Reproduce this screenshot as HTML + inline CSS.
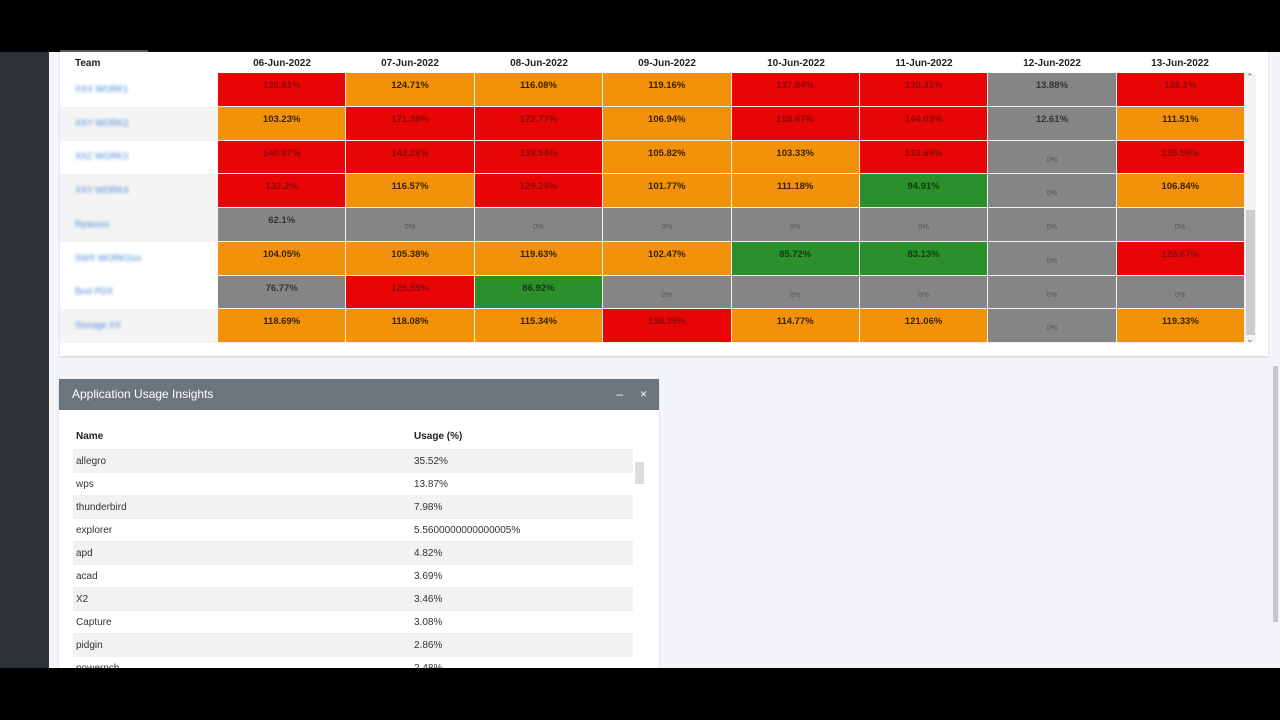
<!DOCTYPE html>
<html><head><meta charset="utf-8"><style>
*{margin:0;padding:0;box-sizing:border-box}
body{width:1280px;height:720px;background:#000;position:relative;overflow:hidden;font-family:"Liberation Sans",sans-serif}
.side{position:absolute;left:0;top:52px;width:49px;height:616px;background:#2c3236}
.main{position:absolute;left:49px;top:52px;width:1231px;height:616px;background:#f3f5f8}
.card1{position:absolute;left:60px;top:52px;width:1208px;height:304px;background:#fff;box-shadow:0 1px 2px #ccc}
.hdr{position:absolute;top:53px;height:21px;font-size:10px;font-weight:bold;color:#222;line-height:21px;text-align:center}
.grid{position:absolute;left:218px;top:73px;width:1027px;height:270px;display:grid;grid-template-columns:repeat(8,1fr);grid-template-rows:repeat(8,1fr)}
.c{border-right:1px solid #f0f0f0;border-bottom:1px solid #f0f0f0;text-align:center;font-size:9.5px;font-weight:bold;color:#333;padding-top:7px}
.R{background:#e80505;color:#8a0a0a}.O{background:#f2920b;color:#3a2200}.G{background:#858588;color:#333}.N{background:#2b8f2b;color:#0f3d0f}
.z{font-size:7.5px;font-weight:normal;color:#555;padding-top:14px}
.team{position:absolute;left:75px;width:140px;height:33px;font-size:9px;color:#4a88d8;filter:blur(1.5px);line-height:33px}
.card2{position:absolute;left:59px;top:379px;width:600px;height:289px;background:#fff;box-shadow:0 1px 2px #ccc;overflow:hidden}
.c2h{height:31px;background:#6c757d;color:#fff;font-size:12px;line-height:31px;padding-left:13px}
.row{position:absolute;left:14px;width:560px;height:23px;font-size:10px;color:#333;line-height:23px;border-top:1px solid #eee}
.row span{position:absolute;left:3px}.row b{position:absolute;left:341px;font-weight:normal}
</style></head><body>
<div class="side"></div><div class="main"></div>
<div style="position:absolute;left:60px;top:50px;width:88px;height:2px;background:#555"></div>
<div class="card1"></div>
<div class="hdr" style="left:75px;text-align:left">Team</div>
<div class="hdr" style="left:218px;width:128px">06-Jun-2022</div>
<div class="hdr" style="left:346px;width:128px">07-Jun-2022</div>
<div class="hdr" style="left:475px;width:128px">08-Jun-2022</div>
<div class="hdr" style="left:603px;width:128px">09-Jun-2022</div>
<div class="hdr" style="left:732px;width:128px">10-Jun-2022</div>
<div class="hdr" style="left:860px;width:128px">11-Jun-2022</div>
<div class="hdr" style="left:988px;width:128px">12-Jun-2022</div>
<div class="hdr" style="left:1116px;width:128px">13-Jun-2022</div>
<div style="position:absolute;left:60px;top:107px;width:158px;height:34px;background:#f4f4f4"></div>
<div style="position:absolute;left:60px;top:174px;width:158px;height:34px;background:#f4f4f4"></div>
<div style="position:absolute;left:60px;top:208px;width:158px;height:34px;background:#f4f4f4"></div>
<div style="position:absolute;left:60px;top:309px;width:158px;height:34px;background:#f4f4f4"></div>
<div class="team" style="top:73px">XXX WORK1</div>
<div class="team" style="top:107px">XXY WORK2</div>
<div class="team" style="top:140px">XXZ WORK3</div>
<div class="team" style="top:174px">XXY WORK4</div>
<div class="team" style="top:208px">Rpaxxxx</div>
<div class="team" style="top:242px">SWX WORKSxx</div>
<div class="team" style="top:275px">Bxxl PDX</div>
<div class="team" style="top:309px">Storage XX</div>
<div class="grid">
<div class="c R">130.81%</div><div class="c O">124.71%</div><div class="c O">116.08%</div><div class="c O">119.16%</div><div class="c R">137.84%</div><div class="c R">130.31%</div><div class="c G">13.88%</div><div class="c R">138.1%</div>
<div class="c O">103.23%</div><div class="c R">171.38%</div><div class="c R">172.77%</div><div class="c O">106.94%</div><div class="c R">158.67%</div><div class="c R">144.03%</div><div class="c G">12.61%</div><div class="c O">111.51%</div>
<div class="c R">140.87%</div><div class="c R">142.28%</div><div class="c R">139.54%</div><div class="c O">105.82%</div><div class="c O">103.33%</div><div class="c R">133.69%</div><div class="c G z">0%</div><div class="c R">135.59%</div>
<div class="c R">132.2%</div><div class="c O">116.57%</div><div class="c R">129.24%</div><div class="c O">101.77%</div><div class="c O">111.18%</div><div class="c N">94.91%</div><div class="c G z">0%</div><div class="c O">106.84%</div>
<div class="c G">62.1%</div><div class="c G z">0%</div><div class="c G z">0%</div><div class="c G z">0%</div><div class="c G z">0%</div><div class="c G z">0%</div><div class="c G z">0%</div><div class="c G z">0%</div>
<div class="c O">104.05%</div><div class="c O">105.38%</div><div class="c O">119.63%</div><div class="c O">102.47%</div><div class="c N">85.72%</div><div class="c N">83.13%</div><div class="c G z">0%</div><div class="c R">128.67%</div>
<div class="c G">76.77%</div><div class="c R">125.55%</div><div class="c N">86.92%</div><div class="c G z">0%</div><div class="c G z">0%</div><div class="c G z">0%</div><div class="c G z">0%</div><div class="c G z">0%</div>
<div class="c O">118.69%</div><div class="c O">118.08%</div><div class="c O">115.34%</div><div class="c R">158.39%</div><div class="c O">114.77%</div><div class="c O">121.06%</div><div class="c G z">0%</div><div class="c O">119.33%</div>
</div>
<div style="position:absolute;left:1245px;top:73px;width:11px;height:270px;background:#f4f4f4"></div>
<div style="position:absolute;left:1246px;top:210px;width:9px;height:125px;background:#ccc"></div>
<div style="position:absolute;left:1246px;top:72px;font-size:9px;color:#666">&#8963;</div>
<div style="position:absolute;left:1246px;top:334px;font-size:9px;color:#666">&#8964;</div>
<div style="position:absolute;left:1273px;top:366px;width:5px;height:256px;background:#c8c8c8"></div>
<div class="card2">
<div class="c2h">Application Usage Insights<span style="position:absolute;right:36px;top:0">&#8211;</span><span style="position:absolute;right:12px;top:0">&#215;</span></div>
<div style="position:absolute;left:14px;top:46px;width:560px;height:24px;font-size:10px;font-weight:bold;color:#222;line-height:24px"><span style="position:absolute;left:3px">Name</span><span style="position:absolute;left:341px">Usage (%)</span></div>
<div class="row" style="top:70px;background:#f2f2f2"><span>allegro</span><b>35.52%</b></div>
<div class="row" style="top:93px"><span>wps</span><b>13.87%</b></div>
<div class="row" style="top:116px;background:#f2f2f2"><span>thunderbird</span><b>7.98%</b></div>
<div class="row" style="top:139px"><span>explorer</span><b>5.5600000000000005%</b></div>
<div class="row" style="top:162px;background:#f2f2f2"><span>apd</span><b>4.82%</b></div>
<div class="row" style="top:185px"><span>acad</span><b>3.69%</b></div>
<div class="row" style="top:208px;background:#f2f2f2"><span>X2</span><b>3.46%</b></div>
<div class="row" style="top:231px"><span>Capture</span><b>3.08%</b></div>
<div class="row" style="top:254px;background:#f2f2f2"><span>pidgin</span><b>2.86%</b></div>
<div class="row" style="top:277px"><span>powerpcb</span><b>2.48%</b></div>
<div style="position:absolute;left:576px;top:83px;width:9px;height:22px;background:#ddd"></div>
</div>
<div style="position:absolute;left:0;top:668px;width:1280px;height:52px;background:#000"></div>
</body></html>
